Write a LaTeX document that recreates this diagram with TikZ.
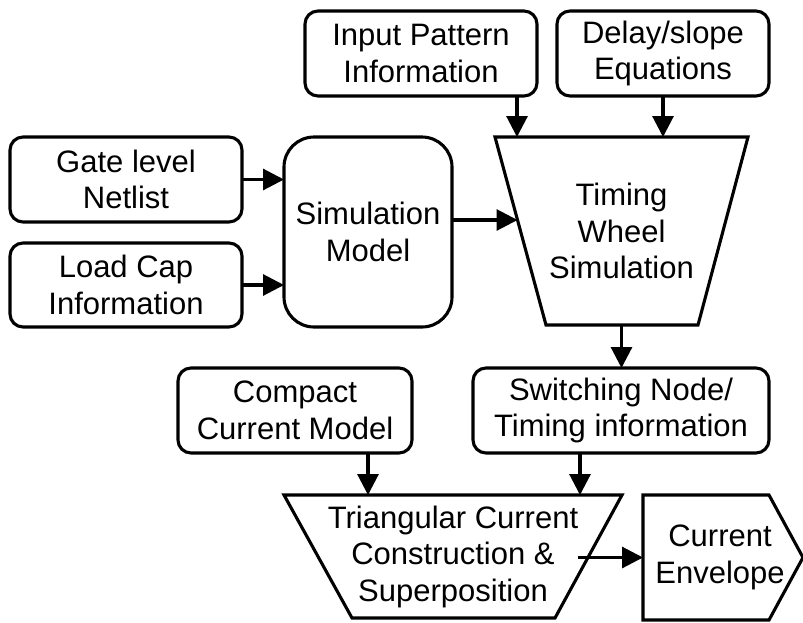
\documentclass[tikz,border=0pt]{standalone}
\usepackage{fontspec}
\setmainfont{Liberation Sans}
\usetikzlibrary{arrows.meta,calc}

\tikzset{
  lw/.style={line width=3.1pt},
  box/.style={lw, draw, rounded corners=13pt, align=center, inner sep=0pt, outer sep=0pt,
              font=\fontsize{31}{36.5}\selectfont},
  bigbox/.style={box, rounded corners=30pt},
  holder/.style={align=center, inner sep=0pt, outer sep=0pt,
                 font=\fontsize{31}{36.5}\selectfont},
  arr/.style={lw, -{Triangle[length=21pt,width=21pt]}},
}

\begin{document}
\begin{tikzpicture}[x=1pt,y=-1pt]
\useasboundingbox (0,0) rectangle (803,622);

% rounded input boxes
\node[box, minimum width=232, minimum height=85] (inp) at (421,53.5) {Input Pattern\\Information};
\node[box, minimum width=212, minimum height=85] (del) at (663,53.5) {Delay/slope\\Equations};
\node[box, minimum width=232, minimum height=85] (gate) at (126,179.5) {Gate level\\Netlist};
\node[box, minimum width=232, minimum height=84] (load) at (126,285) {Load Cap\\Information};
\node[bigbox, minimum width=168, minimum height=190] (sim) at (368,232) {Simulation\\Model};
\node[box, minimum width=296, minimum height=85] (sw) at (621,410.5) {Switching Node/\\Timing information};
\node[box, minimum width=234, minimum height=85] (cmp) at (295,410.5) {Compact\\Current Model};

% timing wheel trapezoid
\node[holder, minimum width=253, minimum height=188] (tw) at (621.5,231) {Timing\\Wheel\\Simulation};
\draw[lw] (tw.north west) -- (tw.north east) -- ($(tw.south east)+(-50,0)$)
  -- ($(tw.south west)+(51,0)$) -- cycle;

% triangular current trapezoid
\node[holder, minimum width=338, minimum height=123] (tri) at (453,556.5) {Triangular Current\\Construction \&\\Superposition};
\draw[lw] (tri.north west) -- (tri.north east) -- ($(tri.south east)+(-67,0)$)
  -- ($(tri.south west)+(68,0)$) -- cycle;

% output pentagon
\node[holder, minimum width=160, minimum height=125] (env) at (723,557.5) {\hspace*{-6pt}Current\\\hspace*{-6pt}Envelope};
\draw[lw] (env.north west) -- ($(env.north east)+(-34,0)$) -- (env.east)
  -- ($(env.south east)+(-34,0)$) -- (env.south west) -- cycle;

% connector end points on slanted or shared edges
\coordinate (twin) at (517.5,220);
\coordinate (twa) at (517,137);
\coordinate (tria) at (368,495);
\coordinate (trib) at (580,495);
\coordinate (trio) at (578,557.5);

% connectors
\draw[arr] (gate) -- (gate -| sim.west);
\draw[arr] (load) -- (load -| sim.west);
\draw[arr] (sim.east |- twin) -- (twin);
\draw[arr] (twa |- inp.south) -- (twa);
\draw[arr] (del.south) -- (del.south |- tw.north);
\draw[arr] (tw.south) -- (tw.south |- sw.north);
\draw[arr] (tria |- cmp.south) -- (tria);
\draw[arr] (trib |- sw.south) -- (trib);
\draw[arr] (trio) -- (trio -| env.west);
\end{tikzpicture}
\end{document}
